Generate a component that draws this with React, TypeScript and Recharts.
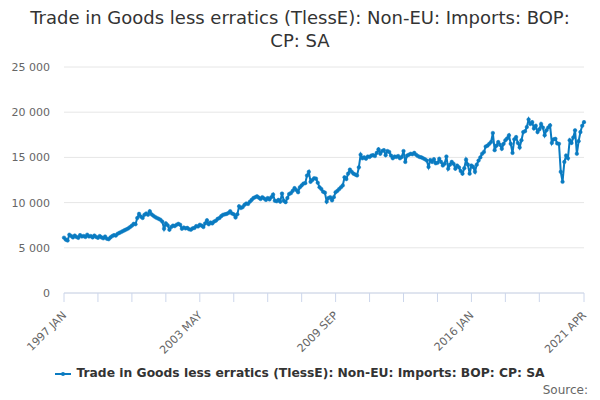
import React from 'react';
import { LineChart, Line, XAxis, YAxis, CartesianGrid } from 'recharts';

const monthNames = ['JAN', 'FEB', 'MAR', 'APR', 'MAY', 'JUN', 'JUL', 'AUG', 'SEP', 'OCT', 'NOV', 'DEC'];

// monthly values, 1997 JAN .. 2021 APR
const values = [
  6120, 5900, 5800, 6450, 6300, 6150, 6350, 6200, 6100, 6400, 6250, 6300,
  6200, 6450, 6250, 6300, 6150, 6350, 6200, 6100, 6300, 6150, 6050, 6250,
  6000, 5950, 6150, 6300, 6400, 6350, 6550, 6650, 6750, 6850, 6950, 7050,
  7150, 7300, 7450, 7650, 7600, 8300, 8750, 8450, 8300, 8650, 8800, 8650,
  9050, 8700, 8550, 8400, 8300, 8200, 8100, 7900, 7100, 7700, 7500, 7000,
  7300, 7450, 7400, 7550, 7650, 7550, 7100, 7250, 7150, 7200, 7050, 7000,
  7150, 7200, 7400, 7350, 7550, 7450, 7300, 7700, 8050, 7600, 7800, 7700,
  7900, 8000, 8200, 8300, 8500, 8650, 8700, 8750, 8850, 9050, 8800, 8700,
  8350, 8700, 9600, 9400, 9500, 9750, 9900, 9850, 10100, 10300, 10500, 10600,
  10700, 10550, 10400, 10600, 10450, 10300, 10500, 10350, 10600, 10900, 10200, 10150,
  10300, 10100, 11000, 10200, 10050, 10500, 10950, 11050, 11300, 11600, 11400, 11150,
  11700, 11900, 12100, 12150, 13000, 13400, 12300, 12500, 12700, 12650, 12200, 11700,
  11500, 11200, 11100, 10100, 10500, 10600, 10250, 10600, 11150, 11300, 11500, 11700,
  11900, 12800, 12600, 13200, 13650, 13400, 13200, 13100, 13000, 13900, 15300, 14900,
  15000, 14850, 15100, 15050, 15200, 15250, 15150, 15500, 15900, 15400, 15700, 15800,
  15250, 15700, 15600, 15200, 14900, 15100, 15050, 15150, 14900, 15050, 15700, 14500,
  15200, 15300, 15400, 15350, 15500, 15300, 15150, 15050, 15000, 14900, 14800, 14650,
  13950, 14700, 14500, 14800, 14350, 14400, 14850, 14500, 14100, 14300, 15100, 13750,
  14200, 14500, 14300, 13750, 14100, 13900, 13500, 13200, 13800, 14750, 14200, 13200,
  14100, 13950, 13400, 14200, 14650, 15000, 15400, 15600, 16200, 16300, 16500, 16700,
  17700, 15800, 16300, 16700, 16400, 15950, 16500, 16900, 17100, 17450, 16500, 15500,
  17000, 17250, 16600, 16100, 16900, 17800, 17900, 18350, 19200, 18700, 18900, 18200,
  18500, 17800, 18100, 18700, 18300, 17450, 18000, 18300, 18550, 16600, 17000, 17050,
  16550, 16500, 13400, 12300, 14500, 15200, 14900, 16900, 16600, 17200, 18000, 15400,
  16800, 17800, 18500, 18900,
];

const categories = values.map((_, i) => `${1997 + Math.floor(i / 12)} ${monthNames[i % 12]}`);

const tickIdx = [0, 19, 38, 57, 76, 95, 114, 133, 152, 171, 190, 209, 228, 247, 266, 291];
const labelIdx = [0, 76, 152, 228, 291];
const yTicks = [0, 5000, 10000, 15000, 20000, 25000];

const seriesName = 'Trade in Goods less erratics (TlessE): Non-EU: Imports: BOP: CP: SA';
const title = 'Trade in Goods less erratics (TlessE): Non-EU: Imports: BOP: CP: SA';

const data = values.map((v, i) => ({ idx: i, name: categories[i], value: v }));

const COLOR = '#0a7bc1';
const FONT = '"DejaVu Sans", Verdana, sans-serif';

const fmt = (v: number) => (v >= 1000 ? `${Math.floor(v / 1000)} ${String(v % 1000).padStart(3, '0')}` : String(v));

const XTick = (props: any) => {
  const { x, y, payload } = props;
  const i = payload.value;
  if (!labelIdx.includes(i)) return null;
  return (
    <text
      x={x + 3}
      y={y + 12}
      textAnchor="end"
      fill="#666"
      fontSize={11}
      fontFamily={FONT}
      transform={`rotate(-45 ${x + 3} ${y + 12})`}
    >
      {categories[i]}
    </text>
  );
};

export default function App() {
  return (
    <div style={{ position: 'absolute', left: 0, top: 0, width: 600, height: 400, background: '#fff', fontFamily: FONT }}>
      <div
        style={{
          position: 'absolute',
          left: 30,
          width: 540,
          top: 6,
          textAlign: 'center',
          fontSize: 18,
          lineHeight: '23px',
          color: '#333',
        }}
      >
        {title}
      </div>
      <LineChart width={600} height={400} data={data} margin={{ top: 67, right: 16, bottom: 37, left: 0 }}>
        <CartesianGrid vertical={false} stroke="#e6e6e6" />
        <XAxis
          dataKey="idx"
          type="number"
          domain={[0, 291]}
          ticks={tickIdx}
          interval={0}
          height={70}
          stroke="#ccd6eb"
          tickLine={{ stroke: '#ccd6eb' }}
          tickSize={9}
          tick={<XTick />}
        />
        <YAxis
          width={64}
          domain={[0, 25000]}
          ticks={yTicks}
          axisLine={false}
          tickLine={false}
          tickFormatter={fmt}
          tick={{ fill: '#666', fontSize: 11, fontFamily: FONT, dx: -6 }}
        />
        <Line
          type="linear"
          dataKey="value"
          stroke={COLOR}
          strokeWidth={2}
          dot={{ r: 1.8, fill: COLOR, stroke: COLOR, strokeWidth: 0.5 }}
          isAnimationActive={false}
        />
      </LineChart>
      <div
        style={{
          position: 'absolute',
          top: 366,
          left: 0,
          width: 600,
          textAlign: 'center',
          fontSize: 12.3,
          fontWeight: 'bold',
          color: '#333',
          whiteSpace: 'nowrap',
        }}
      >
        <svg width={16} height={10} style={{ marginRight: 5, verticalAlign: 'middle' }}>
          <line x1={0} y1={5} x2={16} y2={5} stroke={COLOR} strokeWidth={2} />
          <circle cx={8} cy={5} r={2} fill={COLOR} />
        </svg>
        {seriesName}
      </div>
      <div style={{ position: 'absolute', top: 383, right: 12, fontSize: 12, color: '#666' }}>Source:</div>
    </div>
  );
}
